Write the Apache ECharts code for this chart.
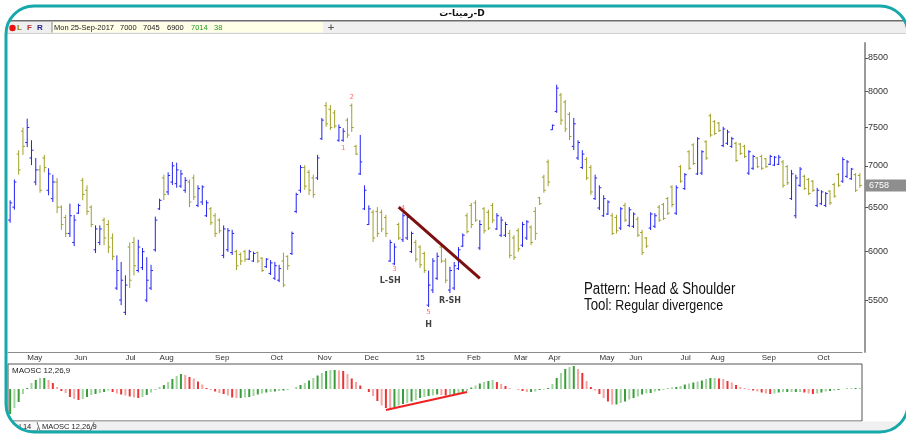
<!DOCTYPE html>
<html>
<head>
<meta charset="utf-8">
<script src="https://cdn.jsdelivr.net/npm/echarts@6/dist/echarts.min.js"></script>
<style>
  html, body { margin: 0; padding: 0; background: #fff; }
  #chart { width: 906px; height: 435px; }
</style>
</head>
<body>
<div id="chart"></div>
<script>
// symbol + header info
const titleText = 'رمینا-ت-D';
const headerText = ['Mon 25-Sep-2017', '7000', '7045', '6900', '7014', '38'];

// daily bars (about 2 sessions per slot)
const opens = [
  6350, 6500, 7150, 7450, 7300, 7100, 6800, 6950, 7100, 6700,
  6600, 6800, 6500, 6380, 6200, 6100, 6430, 6820, 6700, 6500,
  6020, 6100, 6350, 6300, 6150, 5620, 5500, 5380, 6050, 6100,
  5800, 5830, 5500, 5620, 6020, 6480, 6850, 6680, 6800, 6780,
  6750, 6700, 6800, 6850, 6520, 6560, 6400, 6480, 6400, 6350,
  5960, 6020, 5990, 6000, 5970, 6000, 5920, 5900, 5990, 5930,
  5840, 5770, 5720, 5700, 5900, 5950, 5980, 6450, 6700, 6980,
  6920, 6850, 6850, 7350, 7800, 7750, 7700, 7330, 7330, 7600,
  7800, 7250, 6900, 6480, 6300, 6440, 6450, 6440, 6380, 5900,
  5870, 6300, 6130, 6150, 6000, 6100, 6050, 5980, 5450, 5600,
  5720, 6050, 5900, 5600, 5620, 5820, 6060, 6400, 6520, 6550,
  6040, 6480, 6440, 6520, 6250, 6180, 6180, 6200, 6150, 6230,
  6070, 6150, 6270, 6450, 6610, 6860, 7050, 7470, 7720, 7950,
  7850, 7680, 7250, 7100, 6980, 7080, 6980, 6600, 6490, 6400,
  6420, 6400, 6380, 6260, 6520, 6290, 6280, 6360, 6210, 6150,
  6260, 6280, 6500, 6530, 6600, 6740, 6430, 6990, 6720, 7180,
  7270, 6900, 6910, 7310, 7660, 7580, 7560, 7260, 7290, 7250,
  7290, 7280, 7250, 6910, 6970, 7100, 7120, 7090, 7020, 7010,
  7020, 7050, 6990, 6600, 6400, 6760, 6870, 6830, 6810, 6520,
  6540, 6520, 6690, 6770, 6890, 6810, 6870, 6840, 6890, 6880
];
const highs = [
  6580, 6830, 7200, 7500, 7620, 7330, 7100, 7010, 7140, 6970,
  6890, 6850, 6520, 6410, 6540, 6410, 6540, 6850, 6760, 6520,
  6290, 6290, 6380, 6350, 6200, 5960, 5890, 5750, 6100, 6160,
  6130, 6040, 5940, 5860, 6390, 6600, 6890, 6920, 7050, 7040,
  6950, 6860, 6830, 6890, 6760, 6760, 6580, 6500, 6430, 6370,
  6290, 6260, 6240, 6020, 5990, 6020, 6020, 6000, 6000, 5940,
  5930, 5910, 5890, 5860, 5990, 5960, 6220, 6670, 7010, 7010,
  6950, 6890, 7140, 7630, 7850, 7810, 7740, 7540, 7490, 7630,
  7830, 7270, 7400, 6760, 6520, 6470, 6500, 6470, 6410, 6130,
  6090, 6320, 6430, 6410, 6220, 6130, 6070, 6000, 5800, 5930,
  5990, 6070, 5930, 5840, 5890, 6050, 6200, 6430, 6550, 6580,
  6350, 6500, 6470, 6550, 6430, 6390, 6330, 6240, 6180, 6260,
  6330, 6350, 6290, 6500, 6620, 6890, 7080, 7540, 8100, 7980,
  7880, 7710, 7630, 7330, 7200, 7110, 7010, 6890, 6760, 6640,
  6580, 6430, 6410, 6500, 6550, 6500, 6440, 6390, 6240, 6160,
  6440, 6430, 6525, 6550, 6620, 6760, 6760, 7010, 6910, 7200,
  7290, 7370, 7200, 7330, 7690, 7600, 7575, 7510, 7470, 7375,
  7310, 7295, 7270, 7200, 7140, 7110, 7140, 7100, 7140, 7125,
  7140, 7075, 7010, 6950, 6890, 6985, 6890, 6850, 6825, 6730,
  6700, 6680, 6700, 6790, 6910, 7110, 7075, 6975, 6910, 6910
];
const lows = [
  6320, 6470, 6890, 7140, 7240, 7010, 6760, 6670, 6920, 6640,
  6560, 6430, 6240, 6160, 6160, 6060, 6420, 6580, 6410, 6270,
  5985, 6070, 6070, 5985, 5910, 5600, 5450, 5354, 5620, 5750,
  5780, 5805, 5480, 5600, 6000, 6466, 6584, 6643, 6764, 6730,
  6730, 6670, 6500, 6584, 6500, 6525, 6386, 6294, 6160, 6200,
  5930, 5998, 5964, 5805, 5858, 5890, 5911, 5890, 5880, 5785,
  5826, 5753, 5701, 5680, 5630, 5805, 5964, 6430, 6670, 6704,
  6643, 6610, 6825, 7334, 7510, 7467, 7490, 7310, 7310, 7360,
  7440, 7138, 6886, 6466, 6294, 6105, 6160, 6215, 6160, 5890,
  5858, 6127, 6105, 6127, 5985, 5890, 5826, 5775, 5432, 5570,
  5701, 5880, 5670, 5570, 5600, 5805, 6050, 6200, 6260, 6330,
  6018, 6200, 6238, 6316, 6238, 6160, 6160, 5930, 5911, 5998,
  6050, 6127, 6072, 6127, 6525, 6670, 6750, 7467, 7700, 7535,
  7440, 7334, 7203, 7075, 6960, 6825, 6643, 6584, 6466, 6386,
  6409, 6182, 6200, 6238, 6330, 6270, 6260, 6160, 5964, 6040,
  6238, 6260, 6330, 6351, 6409, 6500, 6409, 6790, 6704, 6949,
  7011, 6886, 6886, 7075, 7375, 7400, 7440, 7240, 7268, 7230,
  7050, 7138, 7100, 6886, 6949, 6973, 6949, 6973, 7011, 6998,
  7011, 6730, 6764, 6584, 6370, 6740, 6704, 6643, 6680, 6500,
  6525, 6500, 6525, 6610, 6740, 6790, 6850, 6825, 6680, 6730
];
const closes = [
  6550, 6800, 6950, 7250, 7500, 7200, 6950, 6700, 6980, 6900,
  6800, 6500, 6300, 6200, 6400, 6350, 6520, 6650, 6450, 6300,
  6250, 6250, 6150, 6050, 5950, 5800, 5700, 5650, 5700, 5850,
  6050, 6000, 5700, 5800, 6350, 6580, 6650, 6880, 7000, 6950,
  6900, 6820, 6560, 6620, 6720, 6740, 6550, 6320, 6200, 6230,
  6250, 6230, 6200, 5850, 5900, 5920, 6000, 5980, 5900, 5800,
  5920, 5880, 5850, 5820, 5650, 5850, 6200, 6650, 6980, 6750,
  6700, 6650, 7100, 7600, 7550, 7500, 7520, 7500, 7450, 7400,
  7500, 7150, 7050, 6700, 6480, 6150, 6200, 6250, 6200, 6100,
  6050, 6150, 6400, 6380, 6200, 5920, 5860, 5800, 5650, 5900,
  5950, 5900, 5700, 5800, 5850, 6020, 6180, 6220, 6300, 6350,
  6300, 6230, 6260, 6350, 6400, 6350, 6300, 5960, 5940, 6030,
  6300, 6330, 6100, 6200, 6540, 6700, 6800, 7530, 8050, 7600,
  7480, 7380, 7550, 7300, 7150, 6850, 6680, 6850, 6730, 6600,
  6560, 6200, 6230, 6480, 6350, 6470, 6420, 6180, 5990, 6060,
  6420, 6400, 6350, 6370, 6430, 6530, 6730, 6810, 6890, 6970,
  7030, 7350, 7180, 7100, 7400, 7420, 7460, 7480, 7440, 7350,
  7070, 7160, 7120, 7180, 7120, 6990, 6970, 6990, 7120, 7110,
  7110, 6760, 6790, 6900, 6850, 6960, 6720, 6660, 6700, 6700,
  6680, 6660, 6550, 6630, 6760, 7080, 7050, 6960, 6700, 6758
];

// MAOSC 12,26,9 histogram (same slots)
const maosc = [
  -250, -190, -130, -50, 10, 60, 90, 110, 110, 90,
  60, 20, -20, -40, -80, -100, -110, -100, -80, -60,
  -50, -40, -30, -15, -30, -45, -55, -65, -75, -85,
  -90, -80, -60, -35, -5, 20, 40, 70, 100, 130,
  150, 140, 120, 105, 75, 45, 10, -10, -25, -40,
  -50, -65, -85, -90, -90, -85, -80, -70, -55, -45,
  -35, -30, -25, -20, -15, -10, 0, 20, 40, 60,
  85, 110, 135, 160, 180, 190, 190, 185, 180, 150,
  105, 70, 35, 0, -30, -70, -120, -165, -190, -200,
  -185, -165, -150, -140, -125, -110, -90, -80, -70, -65,
  -55, -60, -65, -65, -50, -45, -35, -20, 15, 35,
  55, 70, 80, 90, 70, 50, 30, 10, 0, -10,
  -20, -30, -30, -25, -10, -5, 10, 50, 110, 160,
  200, 220, 230, 200, 160, 80, 20, -15, -50, -90,
  -125, -155, -155, -140, -125, -105, -90, -75, -55, -45,
  -40, -25, -15, -10, 5, 15, 20, 30, 45, 55,
  65, 75, 85, 100, 110, 110, 105, 100, 80, 65,
  40, 20, 5, -10, -15, -25, -35, -45, -50, -45,
  -35, -30, -30, -30, -30, -30, -35, -45, -50, -45,
  -35, -25, -20, -15, -10, 0, 5, 10, 10, 10
];

// month ticks on the time axis
const monthIdx = [4, 15, 27, 35, 48, 61, 72, 83, 95, 107, 118, 126, 138, 145, 157, 164, 176, 189];
const monthNames = ['May', 'Jun', 'Jul', 'Aug', 'Sep', 'Oct', 'Nov', 'Dec', '15', 'Feb', 'Mar', 'Apr', 'May', 'Jun', 'Jul', 'Aug', 'Sep', 'Oct'];
const priceTicks = [5500, 6000, 6500, 7000, 7500, 8000, 8500];

// annotations
const pivotIdx = [78, 80, 90, 92, 98];
const pivotPrice = [7229, 7924, 5815, 6490, 5383];
const pivotText = ['1', '2', '3', '4', '5'];
const shapeIdx = [89, 98, 103];
const shapePrice = [5690, 5258, 5490];
const shapeText = ['L-SH', 'H', 'R-SH'];
const trendIdx = [91, 110];
const trendPrice = [6500, 5720];
const divIdx = [88, 107];
const divValue = [-210, -30];

const chart = echarts.init(document.getElementById('chart'), null, { renderer: 'canvas' });

const ln = Math.log;
const ohlc = closes.map((c, i) => [i, ln(opens[i]), ln(highs[i]), ln(lows[i]), ln(c)]);
const slots = closes.map((_, i) => String(i));
const isMonth = i => monthIdx.indexOf(i) >= 0;
const axisFont = '"Liberation Sans", Arial, sans-serif';

const BLUE = '#2424f0';
const OLIVE = '#a0a028';

function renderBar(params, api) {
  const i = api.value(0);
  const o = api.coord([i, api.value(1)]);
  const h = api.coord([i, api.value(2)]);
  const l = api.coord([i, api.value(3)]);
  const c = api.coord([i, api.value(4)]);
  const color = api.value(4) >= api.value(1) ? BLUE : OLIVE;
  const st = { stroke: color, lineWidth: 1 };
  return {
    type: 'group',
    children: [
      { type: 'line', shape: { x1: h[0], y1: h[1], x2: l[0], y2: l[1] }, style: st },
      { type: 'line', shape: { x1: o[0] - 2, y1: o[1], x2: o[0], y2: o[1] }, style: st },
      { type: 'line', shape: { x1: c[0], y1: c[1], x2: c[0] + 2, y2: c[1] }, style: st }
    ]
  };
}

const option = {
  animation: false,
  backgroundColor: '#fff',
  grid: [
    { left: 8, right: 44, top: 43, bottom: 83 },
    { left: 8, right: 44, top: 364, bottom: 14, show: true, borderColor: '#555', borderWidth: 1, backgroundColor: 'transparent' }
  ],
  xAxis: [
    {
      type: 'category', gridIndex: 0, data: slots, boundaryGap: true,
      axisLine: { lineStyle: { color: '#8c8c8c', width: 1 } },
      axisTick: { alignWithLabel: true, interval: i => isMonth(i), length: 3, lineStyle: { color: '#555' } },
      axisLabel: {
        interval: i => isMonth(i), align: 'left', margin: 2, fontSize: 8,
        fontFamily: axisFont, color: '#333',
        formatter: v => monthNames[monthIdx.indexOf(+v)]
      },
      splitLine: { show: false }
    },
    {
      type: 'category', gridIndex: 1, data: slots, boundaryGap: true,
      axisLine: { show: false }, axisTick: { show: false }, axisLabel: { show: false }
    }
  ],
  yAxis: [
    {
      type: 'value', gridIndex: 0, position: 'right', offset: 3,
      min: ln(5010), max: ln(8730), scale: true,
      axisLine: { show: true, lineStyle: { color: '#9a9a9a', width: 2 } },
      axisTick: { show: true, length: 3, customValues: priceTicks.map(ln), lineStyle: { color: '#555' } },
      axisLabel: {
        customValues: priceTicks.map(ln), margin: 3, fontSize: 9,
        fontFamily: axisFont, color: '#333',
        formatter: v => String(Math.round(Math.exp(v)))
      },
      splitLine: { show: false }
    },
    {
      type: 'value', gridIndex: 1, min: -320, max: 250,
      axisLine: { show: false }, axisTick: { show: false }, axisLabel: { show: false }, splitLine: { show: false }
    }
  ],
  series: [
    {
      type: 'custom', name: 'price', xAxisIndex: 0, yAxisIndex: 0,
      data: ohlc, renderItem: renderBar,
      encode: { x: 0, y: [1, 2, 3, 4] }
    },
    {
      type: 'bar', name: 'MAOSC', xAxisIndex: 1, yAxisIndex: 1,
      data: maosc, barWidth: 2,
      itemStyle: {
        color: p => {
          const i = p.dataIndex;
          const rising = i === 0 || maosc[i] >= maosc[i - 1];
          const light = i % 2 === 1;
          if (rising) return light ? '#9fd39f' : '#3a9d3a';
          return light ? '#f6a3a3' : '#ec3434';
        }
      }
    },
    {
      type: 'line', name: 'trend', xAxisIndex: 0, yAxisIndex: 0,
      data: trendIdx.map((x, k) => [x, ln(trendPrice[k])]),
      symbol: 'none', lineStyle: { color: '#7d0f0f', width: 3 }, z: 5
    },
    {
      type: 'line', name: 'divergence', xAxisIndex: 1, yAxisIndex: 1,
      data: divIdx.map((x, k) => [x, divValue[k]]),
      symbol: 'none', lineStyle: { color: '#ee2222', width: 2 }, z: 5
    },
    {
      type: 'scatter', name: 'pivots', xAxisIndex: 0, yAxisIndex: 0,
      symbolSize: 0, z: 6,
      data: pivotIdx.map((x, k) => ({ value: [x, ln(pivotPrice[k])], name: pivotText[k] })),
      label: { show: true, position: 'inside', formatter: '{b}', color: '#ff4646', fontSize: 7, fontFamily: 'DejaVu Sans' }
    },
    {
      type: 'scatter', name: 'shape', xAxisIndex: 0, yAxisIndex: 0,
      symbolSize: 0, z: 6,
      data: shapeIdx.map((x, k) => ({ value: [x, ln(shapePrice[k])], name: shapeText[k] })),
      label: { show: true, position: 'inside', formatter: '{b}', color: '#111', fontSize: 8, fontWeight: 'bold', fontFamily: 'DejaVu Sans' }
    }
  ]
};
chart.setOption(option);

// decorations around the chart: title strip, info bar, tabs, frame
const lastClose = closes[closes.length - 1];
const tagY = chart.convertToPixel({ yAxisIndex: 0 }, ln(lastClose));
const uiFont = '7.5px "Liberation Sans", Arial, sans-serif';
const txt = (x, y, text, fill, font, align) => ({
  type: 'text', x, y, z: 60,
  style: { text, fill, font: font || uiFont, align: align || 'left', verticalAlign: 'middle', textAlign: align || 'left', textVerticalAlign: 'middle' }
});
const headerX = [54, 120, 143, 167, 191, 214];
const headerColor = ['#222', '#222', '#222', '#222', '#1f9a1f', '#1f9a1f'];
const noteFont = '"Liberation Sans", Arial, sans-serif';

const graphics = [
  { type: 'rect', z: 50, shape: { x: 0, y: 0, width: 906, height: 21 }, style: { fill: '#fff' } },
  txt(462, 13.5, titleText, '#111', 'bold 9px "DejaVu Sans", sans-serif', 'center'),
  { type: 'rect', z: 51, shape: { x: 0, y: 20, width: 906, height: 1.5 }, style: { fill: '#6b6b6b' } },
  { type: 'rect', z: 50, shape: { x: 0, y: 21.5, width: 906, height: 11.5 }, style: { fill: '#efefef' } },
  { type: 'rect', z: 51, shape: { x: 0, y: 33, width: 906, height: 1 }, style: { fill: '#d0d0d0' } },
  { type: 'rect', z: 51, shape: { x: 52, y: 22, width: 271, height: 10.5 }, style: { fill: '#fffee6' } },
  { type: 'rect', z: 52, shape: { x: 51.5, y: 22, width: 1, height: 10.5 }, style: { fill: '#888' } },
  { type: 'circle', z: 52, shape: { cx: 12.5, cy: 28, r: 3.2 }, style: { fill: '#e81010' } },
  txt(17, 28, 'L', '#7f7f1a', 'bold 8px "Liberation Sans", sans-serif'),
  txt(27, 28, 'F', '#b03030', 'bold 8px "Liberation Sans", sans-serif'),
  txt(37, 28, 'R', '#20208c', 'bold 8px "Liberation Sans", sans-serif'),
  txt(331, 27.5, '+', '#555', 'bold 9px "DejaVu Sans", sans-serif', 'center'),
  // MAOSC caption
  txt(12, 370.5, 'MAOSC 12,26,9', '#222', '8px "Liberation Sans", sans-serif'),
  // last price tag
  { type: 'rect', z: 52, shape: { x: 865, y: tagY - 6, width: 45, height: 12 }, style: { fill: '#8e8e8e' } },
  txt(869, tagY, String(lastClose), '#fff', '9px "Liberation Sans", sans-serif'),
  // note, squeezed to the narrow face of the original
  {
    type: 'text', x: 584, y: 290, z: 60, scaleX: 0.83,
    style: { text: 'Pattern: Head & Shoulder', fill: '#111', font: '16px ' + noteFont, verticalAlign: 'middle', textVerticalAlign: 'middle' }
  },
  {
    type: 'text', x: 584, y: 306, z: 60, scaleX: 0.83,
    style: {
      text: '{a|Tool}{b|: Regular divergence}', verticalAlign: 'middle', textVerticalAlign: 'middle',
      rich: {
        a: { fontSize: 16, fontFamily: noteFont, fill: '#111', color: '#111' },
        b: { fontSize: 15, fontFamily: noteFont, fill: '#111', color: '#111' }
      }
    }
  },
  // bottom tabs
  { type: 'rect', z: 50, shape: { x: 0, y: 421.5, width: 906, height: 11 }, style: { fill: '#f0f0f0' } },
  { type: 'polyline', z: 51, shape: { points: [[12, 422], [12, 431], [37, 431], [40, 422]] }, style: { stroke: '#777', lineWidth: 1, fill: '#f7f7f7' } },
  { type: 'polyline', z: 51, shape: { points: [[37, 422], [40, 431], [90, 431], [94, 422]] }, style: { stroke: '#777', lineWidth: 1, fill: '#fff' } },
  txt(15, 426.5, 'ol 14', '#222', '7.5px "Liberation Sans", sans-serif'),
  txt(42, 426.5, 'MAOSC 12,26,9', '#222', '7.5px "Liberation Sans", sans-serif'),
  // white outside the rounded frame, then the frame
  { type: 'rect', z: 100, shape: { x: -14, y: -14, width: 942, height: 466, r: 48 }, style: { fill: 'transparent', stroke: '#fff', lineWidth: 40 } },
  { type: 'rect', z: 101, shape: { x: 6, y: 6, width: 902, height: 426, r: 28 }, style: { fill: 'transparent', stroke: '#16a8aa', lineWidth: 3 } }
];
headerText.forEach((t, k) => graphics.push(txt(headerX[k], 27.5, t, headerColor[k])));

chart.setOption({ graphic: { elements: graphics } });
</script>
</body>
</html>
